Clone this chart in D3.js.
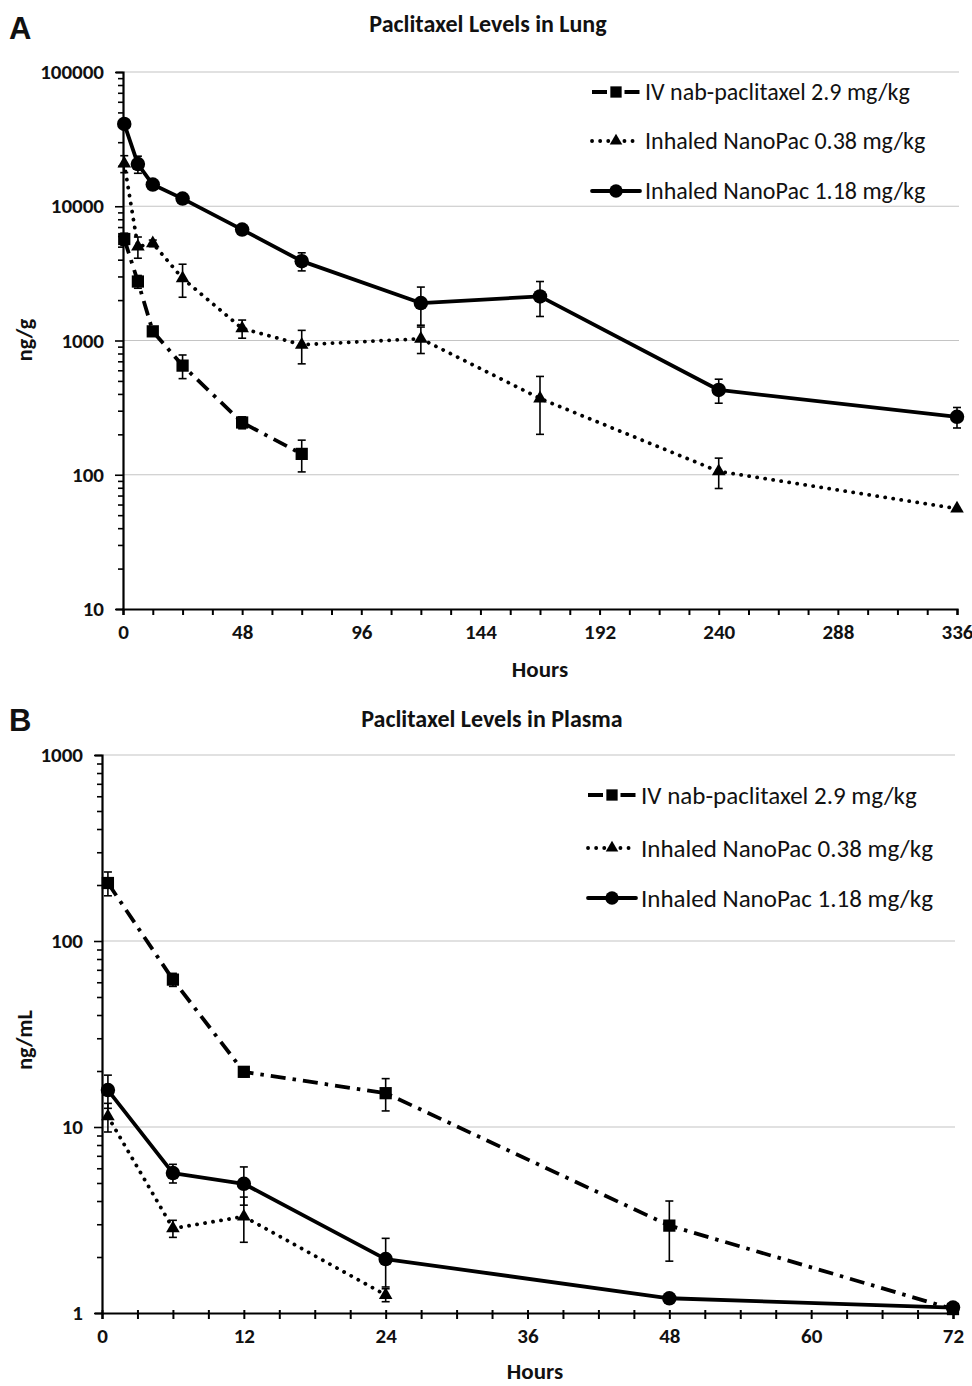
<!DOCTYPE html>
<html>
<head>
<meta charset="utf-8">
<script src="https://cdn.jsdelivr.net/npm/d3@7/dist/d3.min.js"></script>
<style>
  body { margin: 0; background: #fff; }
  svg text { font-family: Carlito, Calibri, Lato, "Noto Sans", sans-serif; fill: #111; }
</style>
</head>
<body>
<svg width="972" height="1386"></svg>
<script>
// legend labels
const seriesNames = ["IV nab-paclitaxel 2.9 mg/kg", "Inhaled NanoPac 0.38 mg/kg", "Inhaled NanoPac 1.18 mg/kg"];

// A: lung (ng/g)
const lungHoursIV = [0.5, 6, 12, 24, 48, 72];
const lungIV = [5700, 2750, 1170, 650, 245, 143];
const lungIVErr = [600, 300, 80, 130, 25, 38];
const lungHours = [0.5, 6, 12, 24, 48, 72, 120, 168, 240, 336];
const lungLow = [20800, 5000, 5300, 2900, 1230, 930, 1030, 370, 106, 56];
const lungLowErr = [3000, 900, 300, 800, 190, 260, 230, 170, 27, 0];
const lungHigh = [41000, 20600, 14500, 11400, 6700, 3900, 1900, 2130, 428, 270];
const lungHighErr = [0, 3000, 0, 0, 300, 600, 600, 620, 87, 47];
const lungXTicks = [0, 48, 96, 144, 192, 240, 288, 336];

// B: plasma (ng/mL)
const plasmaHours = [0.5, 6, 12, 24, 48, 72];
const plasmaIV = [205, 62, 19.8, 15.2, 2.95, 1.05];
const plasmaIVErr = [30, 5, 1.2, 3, 1.05, 0.05];
const plasmaHoursLow = [0.5, 6, 12, 24];
const plasmaLow = [11.4, 2.85, 3.3, 1.25];
const plasmaLowErr = [2, 0.3, 0.9, 0.1];
const plasmaHigh = [15.8, 5.65, 4.95, 1.95, 1.2, 1.07];
const plasmaHighErr = [3.2, 0.65, 1.15, 0.57, 0.05, 0.05];
const plasmaXTicks = [0, 12, 24, 36, 48, 60, 72];

const svg = d3.select("svg");

// line + marker look for each series
const styles = [
  { symbol: d3.symbolSquare, size: 150, dash: "15,7,3.5,7", cap: "butt" },
  { symbol: d3.symbolTriangle, size: 80, dash: "0.1,8", cap: "round" },
  { symbol: d3.symbolCircle, size: 165, dash: null, cap: "round" }
];

function drawPanel(p) {
  const g = svg.append("g");
  const x = p.x, y = p.y;
  const [x0, x1] = x.range();
  const [yb, yt] = y.range();

  // gridlines at decades
  const decades = y.ticks().filter(v => Math.abs(Math.log10(v) - Math.round(Math.log10(v))) < 1e-9);
  g.append("g").selectAll("line").data(decades.slice(1)).join("line")
    .attr("x1", x0).attr("x2", x1 + 2)
    .attr("y1", d => y(d)).attr("y2", d => y(d))
    .attr("stroke", "#c4c4c4").attr("stroke-width", 1.2);

  // x axis
  const xAxis = g.append("g").attr("transform", `translate(0,${yb})`)
    .call(d3.axisBottom(x).tickValues(d3.range(0, x.domain()[1] + 0.01, p.minorStep))
      .tickSize(6).tickPadding(8)
      .tickFormat(d => p.xTicks.includes(d) ? d : ""));
  xAxis.select(".domain").attr("stroke", "#000").attr("stroke-width", 2.2);
  xAxis.selectAll(".tick line").attr("stroke", "#000").attr("stroke-width", 2)
    .attr("y1", p.tickUp || 0);
  xAxis.selectAll(".tick text").attr("font-size", 21).attr("font-weight", "bold")
    .attr("font-family", null).attr("dy", "0.75em");

  // y axis
  const yAxis = g.append("g").attr("transform", `translate(${x0},0)`)
    .call(d3.axisLeft(y).tickSize(7).tickPadding(12)
      .tickFormat(d => decades.includes(d) ? d : ""));
  yAxis.select(".domain").attr("stroke", "#000").attr("stroke-width", 2.2);
  yAxis.selectAll(".tick line").attr("stroke", "#000").attr("stroke-width", 1.6)
    .attr("x2", d => decades.includes(d) ? -8 : -5);
  yAxis.selectAll(".tick text").attr("font-size", 21).attr("font-weight", "bold")
    .attr("font-family", null);

  // series
  p.series.forEach((s, i) => {
    const st = styles[i];
    const pts = s.hours.map((h, k) => ({ h, v: s.values[k], e: s.errs[k] }));
    g.append("path").datum(pts)
      .attr("d", d3.line().x(d => x(d.h)).y(d => y(d.v)))
      .attr("fill", "none").attr("stroke", "#000").attr("stroke-width", 3.8)
      .attr("stroke-linecap", st.cap).attr("stroke-linejoin", "round")
      .attr("stroke-dasharray", st.dash);

    const eb = g.append("g").selectAll("g").data(pts.filter(d => d.e > 0)).join("g")
      .attr("stroke", "#000").attr("stroke-width", 1.6);
    eb.append("line").attr("x1", d => x(d.h)).attr("x2", d => x(d.h))
      .attr("y1", d => y(d.v + d.e)).attr("y2", d => y(Math.max(d.v - d.e, y.domain()[0])));
    eb.append("line").attr("x1", d => x(d.h) - 4).attr("x2", d => x(d.h) + 4)
      .attr("y1", d => y(d.v + d.e)).attr("y2", d => y(d.v + d.e));
    eb.append("line").attr("x1", d => x(d.h) - 4).attr("x2", d => x(d.h) + 4)
      .attr("y1", d => y(d.v - d.e)).attr("y2", d => y(d.v - d.e));

    g.append("g").selectAll("path").data(pts).join("path")
      .attr("transform", d => `translate(${x(d.h)},${y(d.v)})`)
      .attr("d", d3.symbol(st.symbol, st.size)).attr("fill", "#000");
  });

  // legend
  seriesNames.forEach((name, i) => {
    const st = styles[i];
    const ly = p.legend.y[i];
    const lx = p.legend.x;
    g.append("line").attr("x1", lx).attr("x2", lx + 48).attr("y1", ly).attr("y2", ly)
      .attr("stroke", "#000").attr("stroke-width", 3.8)
      .attr("stroke-linecap", st.cap).attr("stroke-dasharray", st.dash);
    g.append("path").attr("transform", `translate(${lx + 24},${ly})`)
      .attr("d", d3.symbol(st.symbol, st.size * 0.85)).attr("fill", "#000");
    g.append("text").attr("x", lx + 53).attr("y", ly).attr("dy", "0.35em")
      .attr("font-size", p.legend.size).text(name);
  });

  // titles
  svg.append("text").attr("x", p.letter[0]).attr("y", p.letter[1])
    .attr("font-size", 31).attr("font-weight", "bold")
    .style("font-family", "Liberation Sans, Arial, sans-serif").text(p.letterText);
  svg.append("text").attr("x", p.title[0]).attr("y", p.title[1]).attr("text-anchor", "middle")
    .attr("font-size", 24).attr("font-weight", "bold").text(p.titleText);
  svg.append("text").attr("x", p.xLabel[0]).attr("y", p.xLabel[1]).attr("text-anchor", "middle")
    .attr("font-size", 23).attr("font-weight", "bold").text("Hours");
  svg.append("text").attr("transform", `translate(${p.yLabel[0]},${p.yLabel[1]}) rotate(-90)`)
    .attr("text-anchor", "middle").attr("font-size", 22).attr("font-weight", "bold").text(p.yLabelText);
}

drawPanel({
  x: d3.scaleLinear().domain([0, 336]).range([123, 957]),
  y: d3.scaleLog().domain([10, 100000]).range([609, 72]),
  xTicks: lungXTicks, minorStep: 12,
  series: [
    { hours: lungHoursIV, values: lungIV, errs: lungIVErr },
    { hours: lungHours, values: lungLow, errs: lungLowErr },
    { hours: lungHours, values: lungHigh, errs: lungHighErr }
  ],
  legend: { x: 592, y: [92, 141, 191], size: 24 },
  letter: [9, 39], letterText: "A",
  title: [488, 32], titleText: "Paclitaxel Levels in Lung",
  xLabel: [540, 677], yLabel: [32, 340], yLabelText: "ng/g"
});

drawPanel({
  x: d3.scaleLinear().domain([0, 72]).range([102, 953]),
  y: d3.scaleLog().domain([1, 1000]).range([1313, 755]),
  xTicks: plasmaXTicks, minorStep: 3, tickUp: -3,
  series: [
    { hours: plasmaHours, values: plasmaIV, errs: plasmaIVErr },
    { hours: plasmaHoursLow, values: plasmaLow, errs: plasmaLowErr },
    { hours: plasmaHours, values: plasmaHigh, errs: plasmaHighErr }
  ],
  legend: { x: 588, y: [795, 848, 898], size: 25 },
  letter: [9, 731], letterText: "B",
  title: [492, 727], titleText: "Paclitaxel Levels in Plasma",
  xLabel: [535, 1379], yLabel: [32, 1040], yLabelText: "ng/mL"
});
</script>
</body>
</html>
